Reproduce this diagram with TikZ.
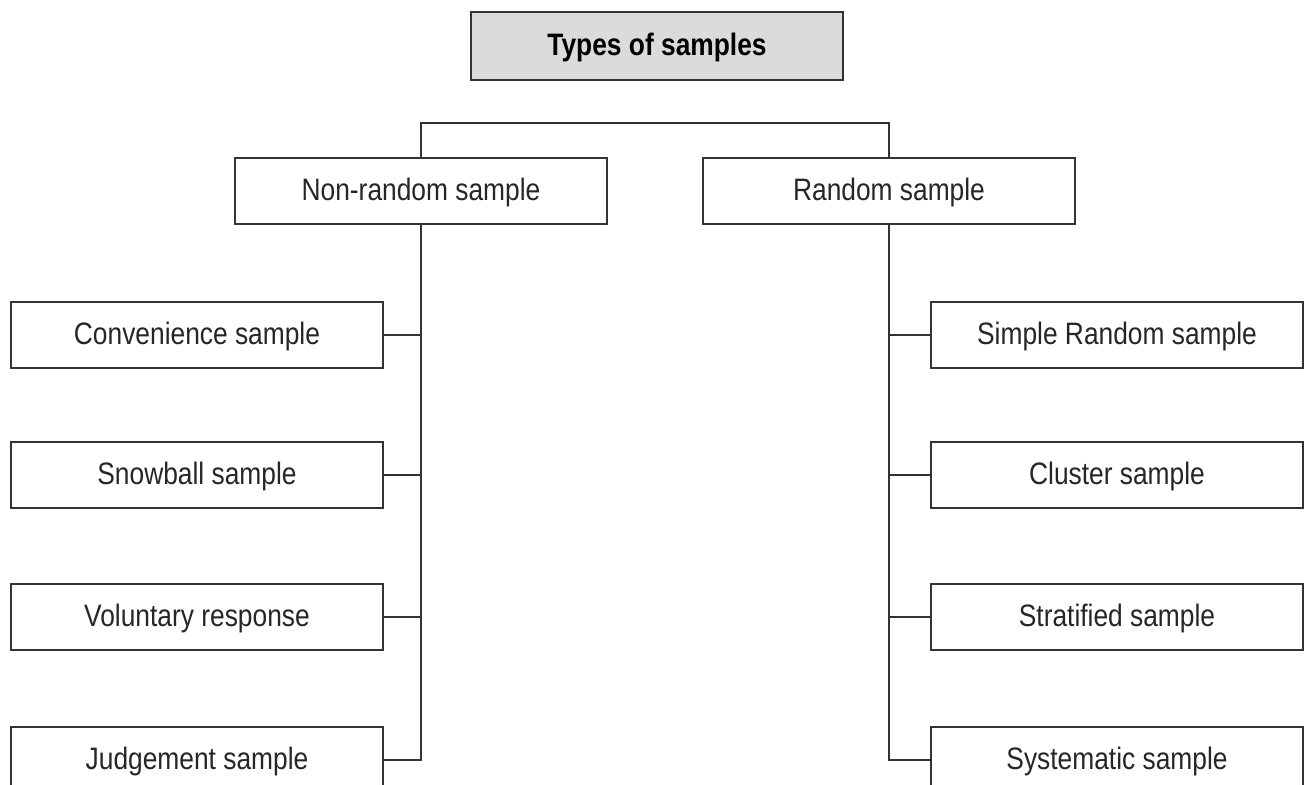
\documentclass[tikz,border=0pt]{standalone}
\usepackage{fontspec}
\setmainfont{Liberation Sans}[FakeStretch=0.85]
\begin{document}
\begin{tikzpicture}[x=1pt,y=-1pt,
  box/.style={draw=black!80, line width=2pt, minimum width=372pt, minimum height=66pt,
    inner sep=0pt, font=\fontsize{31}{36}\selectfont, text=black!85,
    text depth=0.5ex},
  link/.style={draw=black!80, line width=2pt}]
\useasboundingbox (0,0) rectangle (1305,784);

% heading
\node[box, minimum height=68pt, fill=gray!28, text=black,
  font=\bfseries\fontsize{31}{36}\selectfont] (title) at (657,46) {Types of samples};

% the two main groups
\node[box] (nr) at (421,191) {Non-random sample};
\node[box] (r)  at (889,191) {Random sample};

% non-random kinds
\node[box] (conv) at (197,335) {Convenience sample};
\node[box] (snow) at (197,475) {Snowball sample};
\node[box] (vol)  at (197,617) {Voluntary response};
\node[box] (judg) at (197,760) {Judgement sample};

% random kinds
\node[box] (simp) at (1117,335) {Simple Random sample};
\node[box] (clus) at (1117,475) {Cluster sample};
\node[box] (strat) at (1117,617) {Stratified sample};
\node[box] (syst) at (1117,760) {Systematic sample};

% bracket joining the two groups
\draw[link] (nr.north) -- ++(0,-34) -| (r.north);

% left trunk and branches
\draw[link] (nr.south) |- (judg.east);
\draw[link] (conv.east) -| (nr.south);
\draw[link] (snow.east) -| (nr.south);
\draw[link] (vol.east) -| (nr.south);

% right trunk and branches
\draw[link] (r.south) |- (syst.west);
\draw[link] (simp.west) -| (r.south);
\draw[link] (clus.west) -| (r.south);
\draw[link] (strat.west) -| (r.south);
\end{tikzpicture}
\end{document}
